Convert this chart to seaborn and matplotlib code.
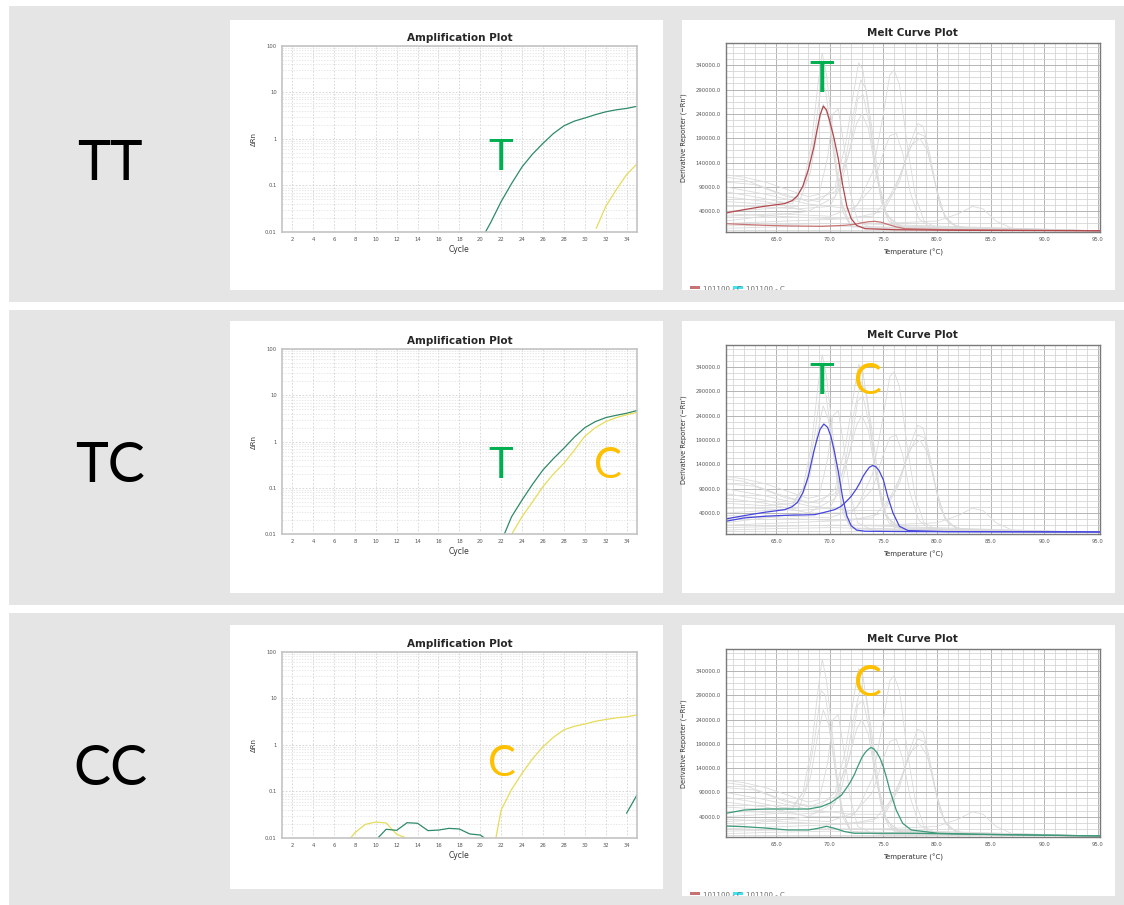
import numpy as np
import pandas as pd
import matplotlib
matplotlib.use("Agg")
from matplotlib import pyplot as plt
from matplotlib.patches import Rectangle
from matplotlib.ticker import FixedLocator, FixedFormatter, NullFormatter, MultipleLocator, FormatStrFormatter
import seaborn as sns

W, H = 1124, 905

# ---------------- amplification data (cycle, delta Rn) ----------------
tt_t_cycle = [20.5, 21, 22, 23, 24, 25, 26, 27, 28, 29, 30, 31, 32, 33, 34, 35]
tt_t_drn = [0.01, 0.016, 0.045, 0.11, 0.25, 0.47, 0.8, 1.3, 1.9, 2.4, 2.8, 3.3, 3.8, 4.2, 4.5, 5.0]
tt_c_cycle = [31.1, 32, 33, 34, 35]
tt_c_drn = [0.012, 0.035, 0.08, 0.17, 0.29]

tc_t_cycle = [22.3, 23, 24, 25, 26, 27, 28, 29, 30, 31, 32, 33, 34, 35]
tc_t_drn = [0.01, 0.024, 0.055, 0.12, 0.245, 0.43, 0.72, 1.25, 2.0, 2.7, 3.3, 3.7, 4.1, 4.7]
tc_c_cycle = [23.0, 24, 25, 26, 27, 28, 29, 30, 31, 32, 33, 34, 35]
tc_c_drn = [0.01, 0.024, 0.05, 0.107, 0.2, 0.34, 0.65, 1.3, 2.0, 2.7, 3.3, 3.8, 4.3]

cc_c_noise_cycle = [7.6, 8, 9, 10, 11, 12, 12.9]
cc_c_noise_drn = [0.01, 0.013, 0.0196, 0.022, 0.021, 0.012, 0.01]
cc_c_cycle = [21.5, 22, 23, 24, 25, 26, 27, 28, 29, 30, 31, 32, 33, 34, 35]
cc_c_drn = [0.01, 0.04, 0.11, 0.245, 0.5, 0.91, 1.45, 2.1, 2.5, 2.8, 3.2, 3.5, 3.8, 4.0, 4.4]
cc_t_noise_cycle = [10.2, 11, 12, 13, 14, 15, 16, 17, 18, 19, 20, 20.4]
cc_t_noise_drn = [0.01, 0.0154, 0.0146, 0.0213, 0.0207, 0.0144, 0.0148, 0.0161, 0.0156, 0.0122, 0.0116, 0.01]
cc_t_late_cycle = [34, 35]
cc_t_late_drn = [0.034, 0.084]

# ---------------- melt data (temperature C, -Rn' in thousands) ----------------
tt_melt_main_temp = [60.3, 62.0, 63.9, 65.8, 66.5, 67.0, 67.5, 68.0, 68.5, 68.8, 69.1, 69.4, 69.7, 70.0,
                     70.4, 70.8, 71.2, 71.6, 72.0, 72.5, 73.3, 76.1, 82.3, 95.2]
tt_melt_main_val = [36.6, 43.4, 50.3, 55.8, 62.0, 72.0, 92.0, 125.0, 170.0, 205.0, 238.0, 256.0, 248.0, 225.0,
                    190.0, 148.0, 95.0, 50.0, 25.0, 11.0, 4.3, 2.2, 0.9, 0.0]
tt_melt_low_temp = [60.3, 63.9, 66.0, 69.3, 71.4, 72.4, 72.9, 73.6, 74.2, 74.8, 75.4, 76.2, 77.0, 80.7, 95.2]
tt_melt_low_val = [14.6, 11.2, 10.0, 9.1, 11.2, 13.5, 16.0, 18.5, 19.4, 17.5, 13.2, 8.0, 4.3, 2.2, 0.0]

tc_melt_t_temp = [60.3, 62.0, 63.9, 65.8, 66.5, 67.0, 67.5, 68.0, 68.5, 68.8, 69.1, 69.45, 69.8, 70.1,
                  70.4, 70.8, 71.2, 71.6, 72.0, 72.5, 73.3, 77.6, 95.2]
tc_melt_t_val = [27.7, 34.5, 41.4, 46.8, 53.0, 62.0, 82.0, 115.0, 165.0, 190.0, 212.0, 222.7, 216.0, 198.0,
                 170.0, 125.0, 72.0, 34.0, 14.0, 5.0, 2.5, 1.8, 1.1]
tc_melt_c_temp = [60.3, 62.0, 63.9, 65.8, 68.6, 69.5, 70.45, 71.0, 71.4, 72.0, 72.5, 72.8, 73.1, 73.4, 73.7,
                  74.0, 74.3, 74.6, 75.0, 75.4, 75.9, 76.5, 77.3, 80.7, 95.2]
tc_melt_c_val = [23.0, 29.8, 33.2, 35.2, 36.6, 41.4, 46.8, 53.0, 60.5, 74.1, 90.0, 101.4, 115.0, 125.2, 134.0,
                 137.5, 135.0, 127.0, 108.2, 74.1, 40.0, 12.7, 3.9, 1.8, 1.1]

cc_melt_main_temp = [60.3, 62.0, 63.9, 66.1, 68.0, 69.2, 70.1, 71.1, 71.85, 72.3, 72.6, 73.0, 73.3, 73.6, 73.85,
                     74.1, 74.4, 74.7, 75.0, 75.3, 75.6, 76.2, 76.8, 77.6, 80.1, 83.8, 95.2]
cc_melt_main_val = [46.8, 53.7, 55.8, 55.8, 55.8, 60.5, 68.8, 84.5, 108.5, 127.0, 142.7, 162.0, 172.0, 179.0, 182.5,
                    180.0, 172.0, 160.0, 142.7, 120.0, 94.8, 53.7, 26.3, 12.6, 5.8, 3.7, 0.3]
cc_melt_low_temp = [60.3, 62.0, 63.9, 66.1, 68.0, 68.9, 69.7, 70.45, 71.4, 72.3, 77.6, 83.8, 95.2]
cc_melt_low_val = [20.8, 19.5, 16.7, 12.6, 12.6, 16.0, 20.1, 16.0, 9.2, 5.8, 5.8, 3.7, 0.3]

# other wells on the plate, drawn in light gray behind every melt plot
gray_melt_curves = [
    ([60.3, 64, 66.5, 67.5, 68.3, 68.9, 69.3, 69.7, 70.2, 70.7, 71.2, 72, 75, 95.2],
     [60, 55, 60, 90, 180, 300, 365, 320, 220, 120, 50, 10, 3, 0]),
    ([60.3, 63, 66.5, 67.8, 68.6, 69.2, 69.6, 70.1, 70.6, 71.2, 72, 95.2],
     [80, 70, 55, 100, 200, 300, 290, 210, 120, 40, 8, 0]),
    ([60.3, 64, 67, 68.2, 68.9, 69.4, 69.9, 70.5, 71.1, 71.8, 95.2],
     [40, 45, 50, 120, 210, 260, 230, 140, 60, 15, 0]),
    ([60.3, 63, 66, 69, 70.5, 71.5, 72.2, 72.7, 73.1, 73.6, 74.2, 74.8, 75.5, 77, 95.2],
     [100, 95, 70, 60, 90, 180, 280, 345, 330, 250, 140, 60, 20, 5, 0]),
    ([60.3, 64, 68, 70.5, 71.5, 72.3, 72.9, 73.4, 74, 74.6, 75.3, 77, 95.2],
     [20, 30, 40, 70, 150, 250, 310, 290, 200, 100, 30, 5, 0]),
    ([60.3, 62, 65, 68, 70.5, 71.8, 72.5, 73, 73.6, 74.3, 75, 76, 95.2],
     [110, 105, 80, 60, 80, 160, 220, 240, 210, 120, 50, 10, 0]),
    ([60.3, 63, 67, 70, 71, 72, 72.6, 73.1, 73.7, 74.4, 75.2, 76.5, 95.2],
     [50, 50, 45, 50, 90, 180, 270, 280, 220, 110, 35, 8, 0]),
    ([60.3, 65, 70, 72.5, 74, 75, 75.6, 76, 76.5, 77.2, 78, 78.8, 80, 95.2],
     [30, 35, 30, 50, 120, 240, 320, 330, 300, 180, 70, 20, 5, 0]),
    ([60.3, 64, 68, 72, 74, 75, 75.6, 76.2, 76.8, 77.5, 78.3, 79.5, 95.2],
     [70, 60, 40, 40, 90, 160, 195, 200, 160, 80, 25, 5, 0]),
    ([60.3, 66, 72, 75, 76.5, 77.5, 78.2, 78.7, 79.3, 80, 80.8, 82, 95.2],
     [15, 20, 25, 40, 100, 180, 220, 215, 160, 80, 25, 5, 0]),
    ([60.3, 65, 70, 74, 76, 77.3, 78.2, 78.8, 79.5, 80.3, 81.2, 83, 95.2],
     [35, 30, 25, 30, 80, 160, 200, 195, 130, 50, 15, 3, 0]),
    ([60.3, 64, 68, 72, 75, 76.5, 77.6, 78.4, 79.1, 79.8, 80.7, 82, 95.2],
     [90, 75, 55, 45, 45, 110, 175, 190, 165, 100, 30, 5, 0]),
    ([60.3, 70, 75, 80, 82, 83.3, 84.3, 85.5, 87, 95.2],
     [10, 15, 15, 20, 35, 50, 45, 20, 5, 0]),
    ([60.3, 62, 64, 66, 68, 69, 69.8, 70.3, 70.8, 71.3, 71.9, 72.6, 74, 95.2],
     [115, 110, 100, 85, 70, 75, 150, 240, 250, 180, 80, 20, 5, 0]),
    ([60.3, 65, 70, 75, 80, 95.2],
     [5, 8, 10, 8, 5, 0]),
]

row_labels = ["TT", "TC", "CC"]

AMP_GREEN = "#2e8a68"
AMP_YELLOW = "#e6dc5a"
LETTER_GREEN = "#00b050"
LETTER_ORANGE = "#ffc000"


def fig_box(x0, y0, x1, y1):
    # pixel rectangle (top-left origin) -> figure fraction
    return [x0 / W, 1 - y1 / H, (x1 - x0) / W, (y1 - y0) / H]


def line(ax, xs, ys, color, lw=0.9, scale=1.0):
    df = pd.DataFrame({"x": xs, "y": np.asarray(ys) * scale})
    sns.lineplot(data=df, x="x", y="y", color=color, lw=lw, ax=ax,
                 sort=False, estimator=None)


def panel(box):
    ax = fig.add_axes(fig_box(*box))
    ax.set_facecolor("white")
    ax.set_xticks([])
    ax.set_yticks([])
    for s in ax.spines.values():
        s.set_visible(False)
    ax.set_zorder(1)
    return ax


def amp_plot(box, curves):
    ax = fig.add_axes(fig_box(*box))
    ax.set_zorder(2)
    for xs, ys, c in curves:
        line(ax, xs, ys, c)
    ax.set_yscale("log")
    ax.set_xlim(1, 35)
    ax.set_ylim(0.01, 100)
    ax.xaxis.set_major_locator(FixedLocator(list(range(2, 35, 2))))
    ax.yaxis.set_major_locator(FixedLocator([0.01, 0.1, 1, 10, 100]))
    ax.yaxis.set_major_formatter(FixedFormatter(["0.01", "0.1", "1", "10", "100"]))
    minors = [m * 10.0 ** e for e in range(-2, 2) for m in range(2, 10)]
    ax.yaxis.set_minor_locator(FixedLocator(minors))
    ax.yaxis.set_minor_formatter(NullFormatter())
    ax.grid(which="major", ls=(0, (2, 2)), color="#d2d2d2", lw=0.6)
    ax.grid(which="minor", axis="y", ls=(0, (2, 2)), color="#dedede", lw=0.5)
    ax.tick_params(which="major", labelsize=3.8, length=2, width=0.5, pad=1.5,
                   colors="#555555")
    ax.tick_params(which="minor", length=0)
    for s in ax.spines.values():
        s.set_color("#c4c4c4")
        s.set_linewidth(1.2)
    ax.set_title("Amplification Plot", fontsize=7.5, fontweight="bold", pad=3.5)
    ax.set_xlabel("Cycle", fontsize=5.5, labelpad=2, color="#333333")
    ax.set_ylabel("\u0394Rn", fontsize=5, labelpad=6, color="#333333")
    return ax


def melt_plot(box, curves):
    ax = fig.add_axes(fig_box(*box))
    ax.set_zorder(2)
    for xs, ys in gray_melt_curves:
        line(ax, xs, ys, "#dadada", lw=0.6, scale=1000)
    for xs, ys, c in curves:
        line(ax, xs, ys, c, lw=0.9, scale=1000)
    ax.set_xlim(60.3, 95.2)
    ax.set_ylim(-2500, 385000)
    ax.xaxis.set_major_locator(FixedLocator([65, 70, 75, 80, 85, 90, 95]))
    ax.xaxis.set_major_formatter(FormatStrFormatter("%.1f"))
    ax.xaxis.set_minor_locator(MultipleLocator(1))
    ax.yaxis.set_major_locator(FixedLocator(list(range(40000, 340001, 50000))))
    ax.yaxis.set_major_formatter(FormatStrFormatter("%.1f"))
    ax.yaxis.set_minor_locator(FixedLocator(list(range(2500, 385000, 12500))))
    ax.grid(which="minor", color="#d6d6d6", lw=0.6)
    ax.grid(which="major", color="#b4b4b4", lw=0.7)
    ax.set_axisbelow(True)
    ax.tick_params(which="major", labelsize=3.8, length=2, width=0.5, pad=1.5,
                   colors="#555555")
    ax.tick_params(which="minor", length=1.2, width=0.4, colors="#888888")
    for s in ax.spines.values():
        s.set_color("#7a7a7a")
        s.set_linewidth(1.0)
    ax.set_title("Melt Curve Plot", fontsize=7.5, fontweight="bold", pad=5)
    ax.set_xlabel("Temperature (\u00b0C)", fontsize=5, labelpad=5, color="#333333")
    ax.set_ylabel("Derivative Reporter (\u2212Rn\u2032)", fontsize=4.8, labelpad=6, color="#333333")
    return ax


def letter(x, y, s, color, size=30):
    fig.text(x / W, 1 - y / H, s, color=color, fontsize=size, family="Lato",
             ha="center", va="baseline", zorder=5)


def melt_legend(pax, y):
    for x0, c in [(690, "#c47474"), (733, "#3fe3f2")]:
        pax.add_patch(Rectangle((x0 / W, 1 - (y + 3) / H), 10 / W, 3 / H,
                                transform=fig.transFigure, facecolor=c,
                                edgecolor="none", clip_on=True))
        pax.text((x0 + 13) / W, 1 - (y + 5) / H, "101100 - C", fontsize=5,
                 color="#666666", transform=fig.transFigure, clip_on=True)


sns.set_style("white")
plt.rcParams["font.family"] = ["DejaVu Sans"]

fig = plt.figure(figsize=(W / 100, H / 100), dpi=100)
fig.patch.set_facecolor("white")

row_bands = [(6, 302), (310, 605), (613, 905)]
for y0, y1 in row_bands:
    fig.add_artist(Rectangle((9 / W, 1 - y1 / H), (W - 9) / W, (y1 - y0) / H,
                             transform=fig.transFigure, facecolor="#e5e5e5",
                             edgecolor="none", zorder=0))

amp_panels = [(230, 20, 663, 290), (230, 321, 663, 593), (230, 625, 663, 889)]
melt_panels = [(682, 20, 1115, 290), (682, 321, 1115, 593), (682, 625, 1115, 896)]
pax_amp = [panel(b) for b in amp_panels]
pax_melt = [panel(b) for b in melt_panels]

# row 1 : TT
amp_plot((281.7, 45.7, 637, 232), [
    (tt_t_cycle, tt_t_drn, AMP_GREEN),
    (tt_c_cycle, tt_c_drn, AMP_YELLOW),
])
melt_plot((725.7, 43.3, 1100, 232), [
    (tt_melt_low_temp, tt_melt_low_val, "#c97474"),
    (tt_melt_main_temp, tt_melt_main_val, "#b4474c"),
])

# row 2 : TC
amp_plot((281.7, 349, 637, 534.3), [
    (tc_t_cycle, tc_t_drn, AMP_GREEN),
    (tc_c_cycle, tc_c_drn, AMP_YELLOW),
])
melt_plot((725.7, 345, 1100, 533.7), [
    (tc_melt_t_temp, tc_melt_t_val, "#4646de"),
    (tc_melt_c_temp, tc_melt_c_val, "#4646de"),
])

# row 3 : CC
amp_plot((281.7, 651.7, 637, 838), [
    (cc_c_noise_cycle, cc_c_noise_drn, AMP_YELLOW),
    (cc_c_cycle, cc_c_drn, AMP_YELLOW),
    (cc_t_noise_cycle, cc_t_noise_drn, AMP_GREEN),
    (cc_t_late_cycle, cc_t_late_drn, AMP_GREEN),
])
melt_plot((725.7, 649.3, 1100, 837.3), [
    (cc_melt_low_temp, cc_melt_low_val, "#3c9a78"),
    (cc_melt_main_temp, cc_melt_main_val, "#3c9a78"),
])

melt_legend(pax_melt[0], 286)
melt_legend(pax_melt[2], 892)

# genotype labels
for lab, yb in zip(row_labels, [180, 482, 785]):
    fig.text(110 / W, 1 - yb / H, lab, fontsize=40, family="Lato", color="black",
             ha="center", va="baseline")

letter(501, 170, "T", LETTER_GREEN)
letter(822, 91.7, "T", LETTER_GREEN)
letter(501, 477.7, "T", LETTER_GREEN)
letter(607.7, 478, "C", LETTER_ORANGE)
letter(822, 394, "T", LETTER_GREEN)
letter(868, 394, "C", LETTER_ORANGE)
letter(501.7, 776.5, "C", LETTER_ORANGE)
letter(868, 696.5, "C", LETTER_ORANGE)

fig.savefig("out.png", dpi=100, facecolor="white")
